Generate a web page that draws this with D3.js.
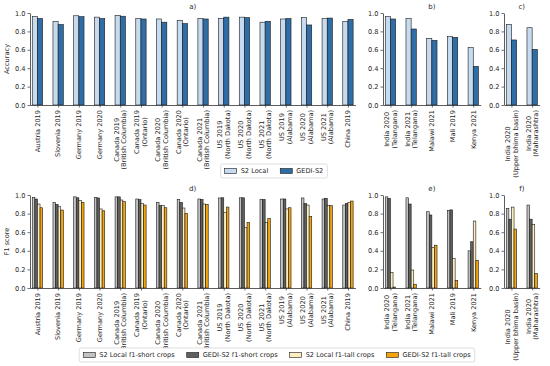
<!DOCTYPE html>
<html>
<head>
<meta charset="utf-8">
<script src="https://cdn.jsdelivr.net/npm/d3@7.9.0/dist/d3.min.js"></script>
<style>
  body { margin: 0; background: #fff; }
  svg { display: block; font-family: "DejaVu Sans", sans-serif; }
</style>
</head>
<body>
<svg id="chart" width="550" height="366"></svg>
<script>
// categories
const catsA = ['Austria 2019', 'Slovenia 2019', 'Germany 2019', 'Germany 2020',
  'Canada 2019\n(British Columbia)', 'Canada 2019\n(Ontario)', 'Canada 2020\n(British Columbia)',
  'Canada 2020\n(Ontario)', 'Canada 2021\n(British Columbia)', 'US 2019\n(North Dakota)',
  'US 2020\n(North Dakota)', 'US 2021\n(North Dakota)', 'US 2019\n(Alabama)', 'US 2020\n(Alabama)',
  'US 2021\n(Alabama)', 'China 2019'];
const catsB = ['India 2020\n(Telangana)', 'India 2021\n(Telangana)', 'Malawi 2021', 'Mali 2019', 'Kenya 2021'];
const catsC = ['India 2020\n(Upper bhima basin)', 'India 2020\n(Maharashtra)'];

// accuracy
const accS2A   = [0.96, 0.91, 0.97, 0.955, 0.975, 0.94, 0.935, 0.92, 0.94, 0.94, 0.955, 0.90, 0.935, 0.95, 0.94, 0.91];
const accGediA = [0.94, 0.875, 0.96, 0.94, 0.965, 0.935, 0.90, 0.885, 0.935, 0.955, 0.95, 0.91, 0.94, 0.87, 0.945, 0.93];
const accS2B   = [0.96, 0.94, 0.725, 0.743, 0.623];
const accGediB = [0.935, 0.826, 0.703, 0.736, 0.42];
const accS2C   = [0.877, 0.84];
const accGediC = [0.707, 0.605];

// f1 scores
const f1S2ShortD   = [0.975, 0.92, 0.98, 0.975, 0.98, 0.957, 0.92, 0.95, 0.957, 0.968, 0.97, 0.95, 0.957, 0.968, 0.957, 0.892];
const f1GediShortD = [0.957, 0.90, 0.97, 0.968, 0.98, 0.95, 0.885, 0.92, 0.953, 0.97, 0.97, 0.95, 0.957, 0.91, 0.965, 0.91];
const f1S2TallD    = [0.903, 0.874, 0.94, 0.85, 0.946, 0.91, 0.885, 0.86, 0.903, 0.814, 0.648, 0.706, 0.85, 0.892, 0.885, 0.92];
const f1GediTallD  = [0.863, 0.838, 0.92, 0.83, 0.928, 0.892, 0.863, 0.803, 0.90, 0.87, 0.706, 0.749, 0.863, 0.767, 0.885, 0.935];
const f1S2ShortE   = [0.98, 0.97, 0.82, 0.835, 0.40];
const f1GediShortE = [0.964, 0.903, 0.785, 0.84, 0.497];
const f1S2TallE    = [0.168, 0.193, 0.435, 0.318, 0.72];
const f1GediTallE  = [0.01, 0.04, 0.46, 0.08, 0.297];
const f1S2ShortF   = [0.857, 0.892];
const f1GediShortF = [0.74, 0.74];
const f1S2TallF    = [0.87, 0.685];
const f1GediTallF  = [0.634, 0.158];

const yTicks = [0, 0.2, 0.4, 0.6, 0.8, 1.0];

const accNames = ['S2 Local', 'GEDI-S2'];
const accColors = ['#c6dbef', '#2e6da6'];
const f1Names = ['S2 Local f1-short crops', 'GEDI-S2 f1-short crops', 'S2 Local f1-tall crops', 'GEDI-S2 f1-tall crops'];
const f1Colors = ['#c2c2c2', '#606060', '#fdeebf', '#f4a40c'];

const svg = d3.select('#chart');
const ink = '#262626';
const fs = 6.6;
const step = 20.7, pad = 0.36;

function drawPanel(cats, series, colors, x0, y0, y1, title, ylabel) {
  const n = cats.length;
  const x = d3.scalePoint()
    .domain(d3.range(n))
    .range([x0, x0 + step * (n - 1 + 2 * pad)])
    .padding(pad);
  const y = d3.scaleLinear().domain([0, 1]).range([y0, y1]);
  const g = svg.append('g');
  const k = series.length;
  const bw = step * 0.5 / k;

  series.forEach((vals, j) => {
    g.selectAll(null)
      .data(vals)
      .join('rect')
      .attr('x', (d, i) => x(i) - step * 0.25 + j * bw)
      .attr('y', d => y(d))
      .attr('width', bw)
      .attr('height', d => y(0) - y(d))
      .attr('fill', colors[j])
      .attr('stroke', '#1a1a1a')
      .attr('stroke-width', 0.6);
  });

  const ya = g.append('g')
    .attr('transform', `translate(${x0},0)`)
    .call(d3.axisLeft(y).tickValues(yTicks).tickFormat(d3.format('.1f')).tickSize(2.5).tickSizeOuter(0).tickPadding(2));
  const xa = g.append('g')
    .attr('transform', `translate(0,${y0})`)
    .call(d3.axisBottom(x).tickSize(2.5).tickSizeOuter(0).tickFormat(''));
  [ya, xa].forEach(a => {
    a.select('.domain').attr('stroke', '#333').attr('stroke-width', 0.8);
    a.selectAll('.tick line').attr('stroke', '#333').attr('stroke-width', 0.7);
    a.selectAll('text').attr('fill', ink).attr('font-size', fs).attr('font-family', 'DejaVu Sans');
  });

  // rotated multi-line tick labels
  cats.forEach((c, i) => {
    const lines = c.split('\n');
    const lg = g.append('g')
      .attr('transform', `translate(${x(i)},${y0 + 5}) rotate(-90)`);
    const lh = fs * 1.15;
    const texts = lines.map((t, li) => lg.append('text')
      .attr('y', (li - (lines.length - 1) / 2) * lh)
      .attr('dy', '0.35em')
      .attr('text-anchor', 'middle')
      .attr('font-size', fs)
      .attr('fill', ink)
      .text(t));
    const w = d3.max(texts, t => t.node().getComputedTextLength());
    texts.forEach(t => t.attr('x', -w / 2));
  });

  const xr = x.range();
  svg.append('text')
    .attr('x', (xr[0] + xr[1]) / 2)
    .attr('y', y1 - 4)
    .attr('text-anchor', 'middle')
    .attr('font-size', 7)
    .attr('fill', ink)
    .text(title);

  if (ylabel) {
    svg.append('text')
      .attr('transform', `translate(9,${(y0 + y1) / 2}) rotate(-90)`)
      .attr('text-anchor', 'middle')
      .attr('font-size', fs)
      .attr('fill', ink)
      .text(ylabel);
  }
}

drawPanel(catsA, [accS2A, accGediA], accColors, 30, 105, 13, 'a)', 'Accuracy');
drawPanel(catsB, [accS2B, accGediB], accColors, 383, 105, 13, 'b)');
drawPanel(catsC, [accS2C, accGediC], accColors, 504, 105, 13, 'c)');
drawPanel(catsA, [f1S2ShortD, f1GediShortD, f1S2TallD, f1GediTallD], f1Colors, 30, 288, 195, 'd)', 'F1 score');
drawPanel(catsB, [f1S2ShortE, f1GediShortE, f1S2TallE, f1GediTallE], f1Colors, 383, 288, 195, 'e)');
drawPanel(catsC, [f1S2ShortF, f1GediShortF, f1S2TallF, f1GediTallF], f1Colors, 504, 288, 195, 'f)');

function legend(names, colors, cx, cy) {
  const g = svg.append('g');
  const hl = 12, hh = 5, tp = 4, cs = 12, padX = 4, h = 14;
  const items = names.map((nm, i) => {
    const t = g.append('text')
      .attr('font-size', fs)
      .attr('fill', ink)
      .attr('dy', '0.35em')
      .text(nm);
    return { t, w: t.node().getComputedTextLength(), c: colors[i] };
  });
  const total = d3.sum(items, d => hl + tp + d.w) + cs * (items.length - 1) + padX * 2;
  let xx = cx - total / 2 + padX;
  g.insert('rect', ':first-child')
    .attr('x', cx - total / 2).attr('y', cy - h / 2)
    .attr('width', total).attr('height', h)
    .attr('rx', 2)
    .attr('fill', '#fff')
    .attr('stroke', '#d0d0d0')
    .attr('stroke-width', 0.7);
  items.forEach(d => {
    g.append('rect')
      .attr('x', xx).attr('y', cy - hh / 2)
      .attr('width', hl).attr('height', hh)
      .attr('fill', d.c)
      .attr('stroke', '#1a1a1a')
      .attr('stroke-width', 0.6);
    d.t.attr('x', xx + hl + tp).attr('y', cy);
    xx += hl + tp + d.w + cs;
  });
}

legend(accNames, accColors, 274, 171);
legend(f1Names, f1Colors, 277, 355);
</script>
</body>
</html>
